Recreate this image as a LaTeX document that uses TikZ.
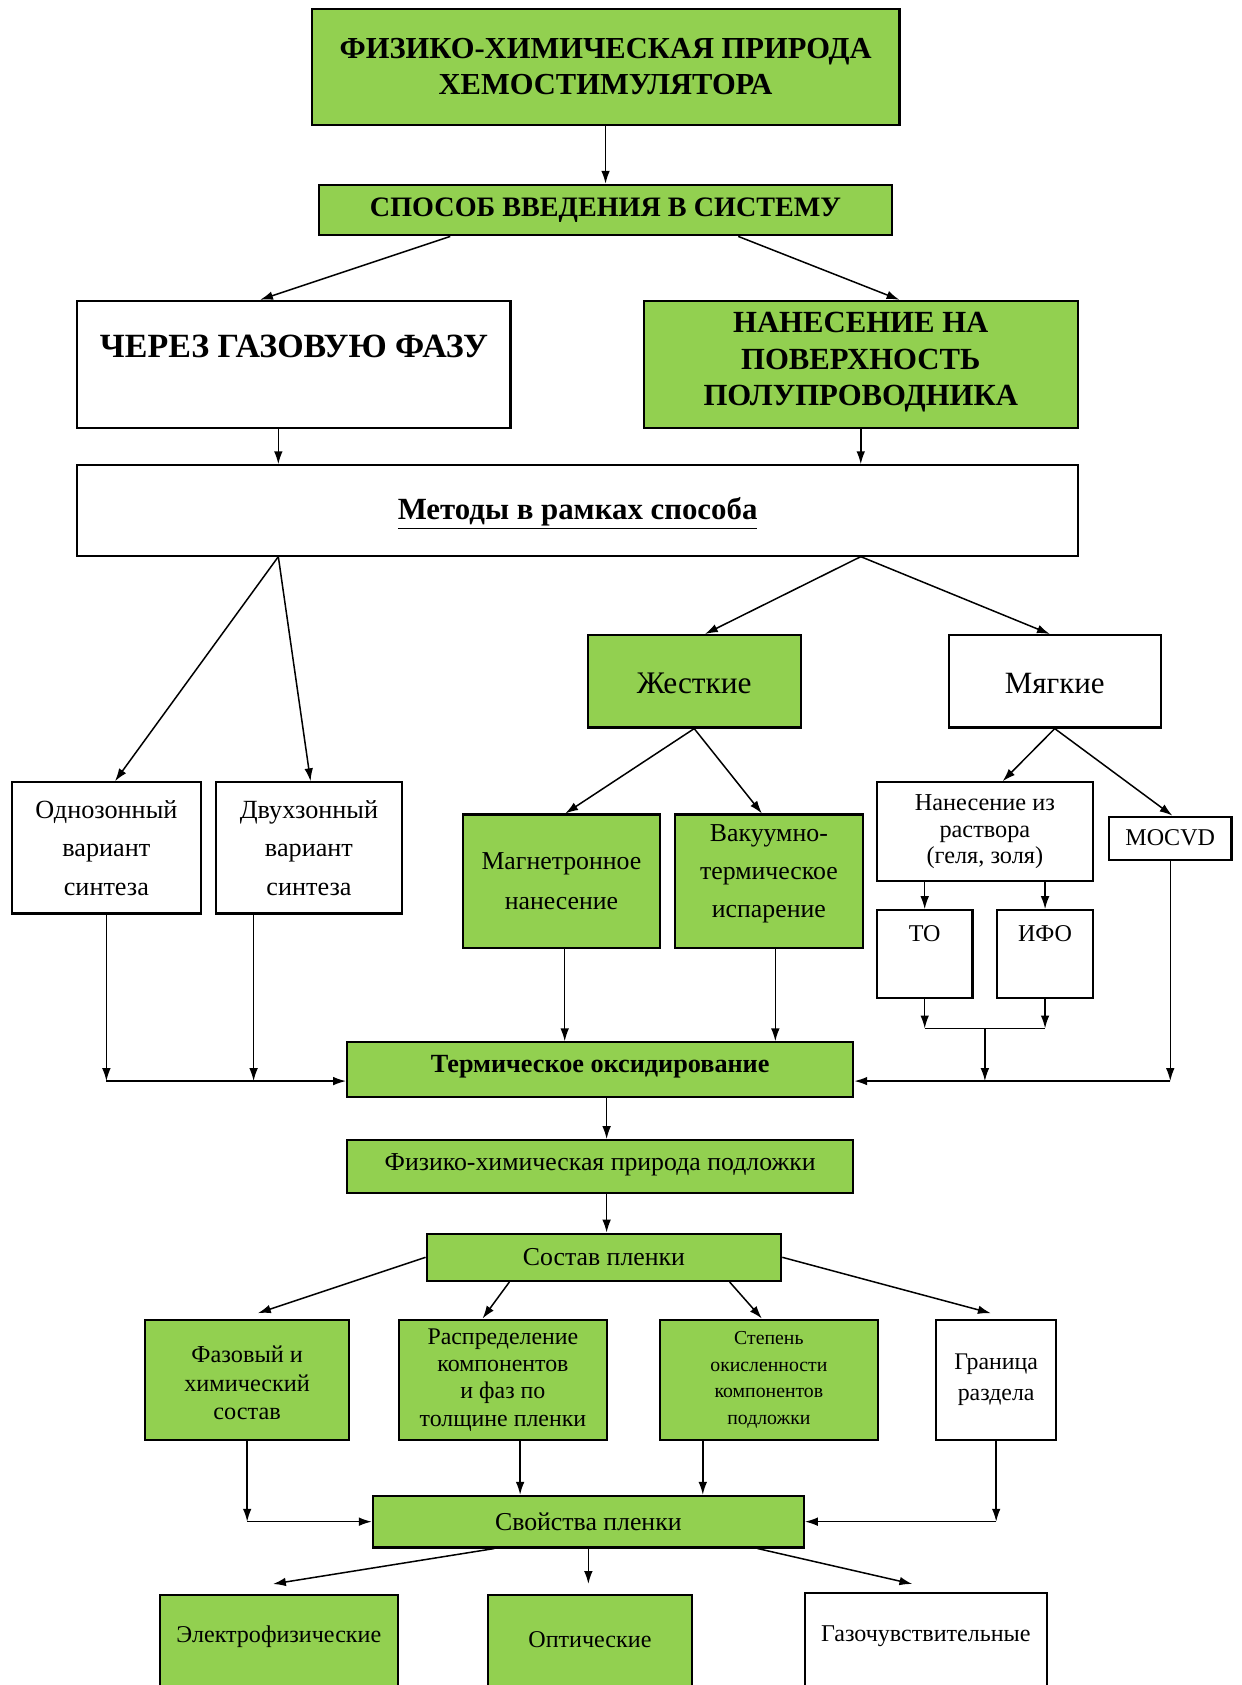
\documentclass[tikz,border=0pt]{standalone}
\usepackage{fontspec}
\setmainfont{Liberation Serif}
\usetikzlibrary{arrows.meta, calc, fit}
\definecolor{lgreen}{RGB}{146,208,80}
\tikzset{
  box/.style={draw=black, line width=1pt, inner sep=0pt},
  gbox/.style={box, fill=lgreen},
  wbox/.style={box, fill=white},
  txt/.style={inner sep=0pt, align=center},
  arr/.style={-{Latex[length=6pt,width=4pt]}, line width=0.7pt},
  ln/.style={line width=0.7pt}
}
\newcommand{\fsz}[2]{\fontsize{#1}{#2}\selectfont}

\begin{document}
\begin{tikzpicture}[x=0.5pt, y=-0.5pt]
  \useasboundingbox (0,0) rectangle (1155,1568);
  \clip (0,0) rectangle (1155,1568);

  % --- upper levels ---
  \node[gbox, fit={(290,8) (837,116)}] (hem) {};
  \node[txt, font=\fsz{14.2pt}{17pt}\bfseries] (hem-t) at (hem.center) {ФИЗИКО-ХИМИЧЕСКАЯ ПРИРОДА\\ХЕМОСТИМУЛЯТОРА};
  \node[gbox, fit={(297,172) (830,219)}] (spos) {};
  \node[txt, font=\fsz{13.1pt}{16pt}\bfseries] (spos-t) at (spos.center) {СПОСОБ ВВЕДЕНИЯ В СИСТЕМУ};
  \node[wbox, fit={(72,280) (475,398)}] (gaz) {};
  \node[txt, font=\fsz{15.8pt}{17pt}\bfseries] (gaz-t) at ($(gaz.north)+(0,43)$) {ЧЕРЕЗ ГАЗОВУЮ ФАЗУ};
  \node[gbox, fit={(599,280) (1003,398)}] (nan) {};
  \node[txt, font=\fsz{14.3pt}{17pt}\bfseries] (nan-t) at ($(nan.center)+(0,-2)$) {НАНЕСЕНИЕ НА\\ПОВЕРХНОСТЬ\\ПОЛУПРОВОДНИКА};
  \node[wbox, fit={(72,433) (1003,517)}] (met) {};
  \node[txt, font=\fsz{14.35pt}{17pt}\bfseries] (met-t) at ($(met.center)+(0,3)$) {\underline{Методы в рамках способа}};

  % --- methods ---
  \node[gbox, fit={(547,591) (745,677)}] (zhest) {};
  \node[txt, font=\fsz{14.6pt}{17pt}] (zhest-t) at ($(zhest.center)+(0,2)$) {Жесткие};
  \node[wbox, fit={(883,591) (1080,677)}] (myag) {};
  \node[txt, font=\fsz{14.4pt}{17pt}] (myag-t) at ($(myag.center)+(0,2)$) {Мягкие};
  \node[wbox, fit={(11,728) (187,850)}] (odno) {};
  \node[txt, font=\fsz{12.2pt}{18pt}] (odno-t) at (odno.center) {Однозонный\\вариант\\синтеза};
  \node[wbox, fit={(201,728) (374,850)}] (dvuh) {};
  \node[txt, font=\fsz{12.2pt}{18pt}] (dvuh-t) at (dvuh.center) {Двухзонный\\вариант\\синтеза};
  \node[gbox, fit={(431,758) (614,882)}] (magn) {};
  \node[txt, font=\fsz{12pt}{18.5pt}] (magn-t) at (magn.center) {Магнетронное\\нанесение};
  \node[gbox, fit={(628,758) (803,882)}] (vak) {};
  \node[txt, font=\fsz{12pt}{17.75pt}] (vak-t) at ($(vak.center)+(0,-7)$) {Вакуумно-\\термическое\\испарение};
  \node[wbox, fit={(816,728) (1017,820)}] (rast) {};
  \node[txt, font=\fsz{11.3pt}{12.5pt}] (rast-t) at (rast.center) {Нанесение из\\раствора\\(геля, золя)};
  \node[wbox, fit={(1032,760) (1146,800)}] (mocvd) {};
  \node[txt, font=\fsz{11.2pt}{13pt}] (mocvd-t) at (mocvd.center) {MOCVD};
  \node[wbox, fit={(816,847) (905,929)}] (to) {};
  \node[txt, font=\fsz{11.2pt}{13pt}] (to-t) at ($(to.north)+(0,23)$) {ТО};
  \node[wbox, fit={(928,847) (1017,929)}] (ifo) {};
  \node[txt, font=\fsz{11.2pt}{13pt}] (ifo-t) at ($(ifo.north)+(0,23)$) {ИФО};

  % --- oxidation and film ---
  \node[gbox, fit={(323,970) (794,1021)}] (term) {};
  \node[txt, font=\fsz{12.2pt}{15pt}\bfseries] (term-t) at ($(term.center)+(0,-3)$) {Термическое оксидирование};
  \node[gbox, fit={(323,1061) (794,1110)}] (podl) {};
  \node[txt, font=\fsz{12pt}{15pt}] (podl-t) at ($(podl.center)+(0,-2)$) {Физико-химическая природа подложки};
  \node[gbox, fit={(397,1148) (727,1192)}] (sost) {};
  \node[txt, font=\fsz{12pt}{15pt}] (sost-t) at (sost.center) {Состав пленки};
  \node[gbox, fit={(135,1228) (325,1340)}] (faz) {};
  \node[txt, font=\fsz{11.3pt}{13.25pt}] (faz-t) at ($(faz.center)+(0,3)$) {Фазовый и\\химический\\состав};
  \node[gbox, fit={(371,1228) (565,1340)}] (raspr) {};
  \node[txt, font=\fsz{11.1pt}{12.7pt}] (raspr-t) at (raspr.center) {Распределение\\компонентов\\и фаз по\\толщине пленки};
  \node[gbox, fit={(614,1228) (817,1340)}] (stepen) {};
  \node[txt, font=\fsz{9.2pt}{12.5pt}] (stepen-t) at (stepen.center) {Степень\\окисленности\\компонентов\\подложки};
  \node[wbox, fit={(871,1228) (983,1340)}] (gran) {};
  \node[txt, font=\fsz{11.1pt}{14.5pt}] (gran-t) at (gran.center) {Граница\\раздела};
  \node[gbox, fit={(347,1392) (748,1440)}] (svoi) {};
  \node[txt, font=\fsz{12pt}{15pt}] (svoi-t) at (svoi.center) {Свойства пленки};

  % --- properties (cut by the page edge) ---
  \node[gbox, fit={(149,1484) (370,1610)}] (elek) {};
  \node[txt, font=\fsz{11.2pt}{13pt}] (elek-t) at ($(elek.north)+(0,40)$) {Электрофизические};
  \node[gbox, fit={(454,1484) (644,1610)}] (opt) {};
  \node[txt, font=\fsz{11.2pt}{13pt}] (opt-t) at ($(opt.north)+(0,43)$) {Оптические};
  \node[wbox, fit={(749,1482) (974,1610)}] (gazo) {};
  \node[txt, font=\fsz{11.2pt}{13pt}] (gazo-t) at ($(gazo.north)+(0,42)$) {Газочувствительные};

  % --- connectors ---
  \draw[arr] (hem.south) -- (hem.south |- spos.north);
  \draw[arr] ($(spos.south west)+(123,0)$) -- ($(gaz.north west)+(171,0)$);
  \draw[arr] ($(spos.south west)+(391,0)$) -- ($(nan.north west)+(239,0)$);
  \coordinate (g1) at ($(gaz.south west)+(188,0)$);
  \draw[arr] (g1) -- (g1 |- met.north);
  \coordinate (n1) at ($(nan.south west)+(203,0)$);
  \draw[arr] (n1) -- (n1 |- met.north);
  \coordinate (m1) at ($(met.south west)+(188,0)$);
  \coordinate (m2) at ($(met.south west)+(730,0)$);
  \draw[arr] (m1) -- ($(odno.north west)+(97,0)$);
  \draw[arr] (m1) -- ($(dvuh.north west)+(89,0)$);
  \draw[arr] (m2) -- ($(zhest.north west)+(110,0)$);
  \draw[arr] (m2) -- ($(myag.north west)+(95,0)$);
  \draw[arr] (zhest.south) -- ($(magn.north west)+(96,0)$);
  \draw[arr] (zhest.south) -- ($(vak.north west)+(82,0)$);
  \draw[arr] (myag.south) -- ($(rast.north west)+(118,0)$);
  \draw[arr] (myag.south) -- ($(mocvd.north)+(2,0)$);
  \draw[arr] (to.north |- rast.south) -- (to.north);
  \draw[arr] (ifo.north |- rast.south) -- (ifo.north);
  % join of TO and IFO
  \coordinate (jn) at ($(to.south)!0.5!(ifo.south)+(0,27)$);
  \draw[arr] (to.south) -- (to.south |- jn);
  \draw[arr] (ifo.south) -- (ifo.south |- jn);
  \draw[ln] (to.south |- jn) -- (ifo.south |- jn);
  \coordinate (tr) at ($(term.south east)+(0,-16)$);
  \coordinate (tl) at ($(term.south west)+(0,-16)$);
  \draw[arr] (jn) -- (jn |- tr);
  \draw[arr] (mocvd.south) -- (mocvd.south |- tr);
  \draw[arr] (mocvd.south |- tr) -- (tr);
  \draw[arr] (odno.south) -- (odno.south |- tl);
  \coordinate (d1) at ($(dvuh.south west)+(36,0)$);
  \draw[arr] (d1) -- (d1 |- tl);
  \draw[arr] (odno.south |- tl) -- (tl);
  \coordinate (mg1) at ($(magn.south)+(3,0)$);
  \draw[arr] (mg1) -- (mg1 |- term.north);
  \coordinate (vk1) at ($(vak.south)+(6,0)$);
  \draw[arr] (vk1) -- (vk1 |- term.north);
  \coordinate (t1) at ($(term.south)+(6,0)$);
  \draw[arr] (t1) -- (t1 |- podl.north);
  \draw[arr] (t1 |- podl.south) -- (t1 |- sost.north);
  \draw[arr] (sost.west) -- ($(faz.north west)+(106,-5)$);
  \draw[arr] ($(sost.south west)+(78,0)$) -- ($(raspr.north west)+(79,0)$);
  \draw[arr] ($(sost.south west)+(283,0)$) -- ($(stepen.north west)+(96,0)$);
  \draw[arr] (sost.east) -- ($(gran.north)+(-5,-5)$);
  \draw[arr] (faz.south) -- (faz.south |- svoi.west);
  \draw[arr] (faz.south |- svoi.west) -- (svoi.west);
  \coordinate (r1) at ($(raspr.south west)+(114,0)$);
  \draw[arr] (r1) -- (r1 |- svoi.north);
  \coordinate (s1) at ($(stepen.south west)+(41,0)$);
  \draw[arr] (s1) -- (s1 |- svoi.north);
  \draw[arr] (gran.south) -- (gran.south |- svoi.east);
  \draw[arr] (gran.south |- svoi.east) -- (svoi.east);
  \draw[arr] ($(svoi.south west)+(114,0)$) -- ($(elek.north west)+(106,-9)$);
  \draw[arr] (svoi.south) -- ($(svoi.south |- opt.north)+(0,-9)$);
  \draw[arr] ($(svoi.south west)+(359,0)$) -- ($(gazo.north west)+(101,-7)$);
\end{tikzpicture}
\end{document}
